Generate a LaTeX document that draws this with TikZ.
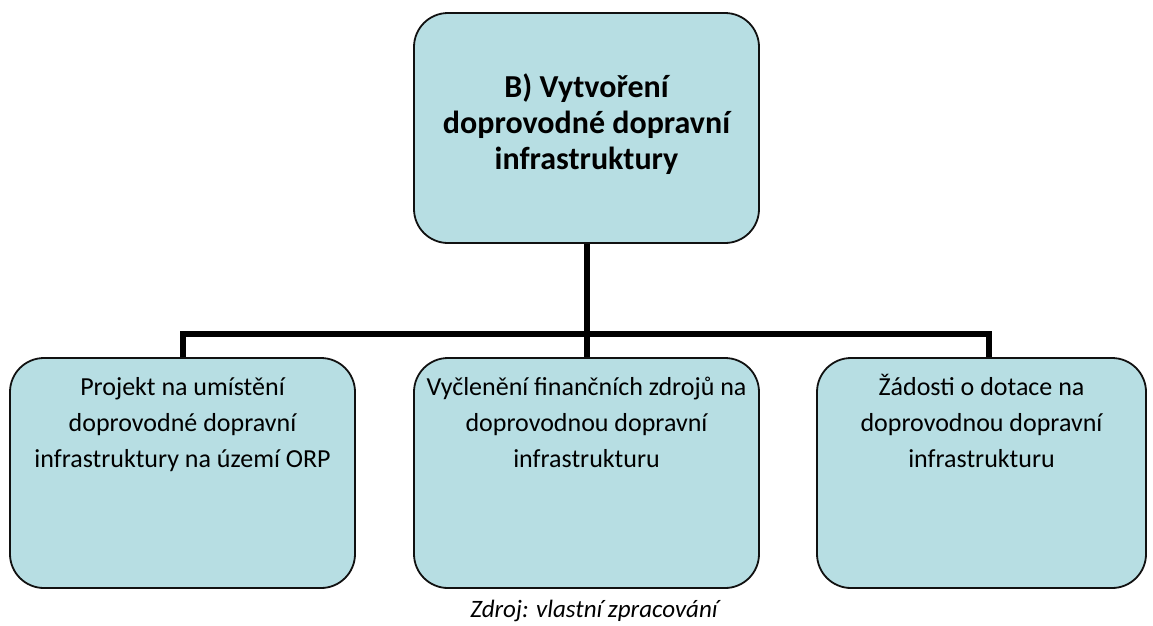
\documentclass[tikz,border=0pt]{standalone}
\usepackage{fontspec}
\setmainfont{Carlito}
\definecolor{boxfill}{HTML}{B7DEE3}
\definecolor{boxline}{HTML}{111111}
\begin{document}
\begin{tikzpicture}[x=1pt,y=1pt,
  box/.style={draw=boxline,line width=1.8pt,fill=boxfill,rounded corners=34pt,inner sep=0pt},
  conn/.style={line width=6pt,black},
  txt/.style={align=flush center,inner sep=0pt,text width=340pt,anchor=base,font=\fontsize{26}{36}\selectfont},
  ttl/.style={align=flush center,inner sep=0pt,text width=340pt,anchor=base,font=\bfseries\fontsize{32}{36}\selectfont}]
\useasboundingbox (0,0) rectangle (1153,-625);
\node[box,minimum width=345pt,minimum height=230pt] (top) at (586.5,-128) {};
\node[box,minimum width=345pt,minimum height=230pt] (b1) at (182.5,-473) {};
\node[box,minimum width=345pt,minimum height=230pt] (b2) at (586.5,-473) {};
\node[box,minimum width=329pt,minimum height=230pt] (b3) at (981.5,-473) {};
\node[ttl] (ttop) at (586.5,-97) {B) Vytvoření\\doprovodné dopravní\\infrastruktury};
\node[txt] (t1) at (182.5,-395) {Projekt na umístění\\doprovodné dopravní\\infrastruktury na území ORP};
\node[txt] (t2) at (586.5,-395) {Vyčlenění finančních zdrojů na\\doprovodnou dopravní\\infrastrukturu};
\node[txt] (t3) at (981.5,-395) {Žádosti o dotace na\\doprovodnou dopravní\\infrastrukturu};
\coordinate (j) at (586.5,-334);
\coordinate (l) at (183,-334);
\coordinate (r) at (989,-334);
\draw[conn] (top.south) -- (j);
\draw[conn] (b1.north -| l) -- (l) -- (r) -- (b3.north -| r);
\draw[conn] (j) -- (b2.north);
\node[inner sep=0pt,anchor=base,font=\itshape\fontsize{25}{28}\selectfont] (src) at (594,-617) {Zdroj: vlastní zpracování};
\end{tikzpicture}
\end{document}
